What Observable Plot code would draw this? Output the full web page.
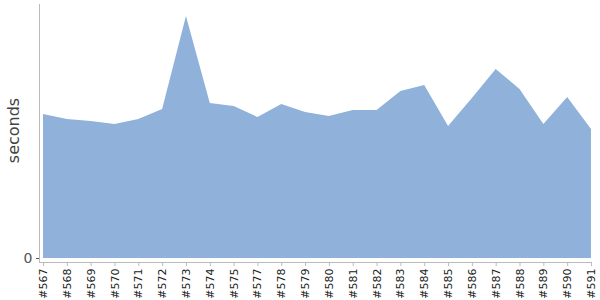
<!DOCTYPE html>
<html>
<head>
<meta charset="utf-8">
<script src="https://cdn.jsdelivr.net/npm/d3@7"></script>
<script src="https://cdn.jsdelivr.net/npm/@observablehq/plot@0.6"></script>
<style>
  html, body { margin: 0; padding: 0; background: #fff; }
  #chart svg { display: block; }
</style>
</head>
<body>
<div id="chart"></div>
<script>
const builds = ["#567","#568","#569","#570","#571","#572","#573","#574","#575","#577","#578","#579","#580","#581","#582","#583","#584","#585","#586","#587","#588","#589","#590","#591"];
const seconds = [144, 139, 137, 134, 139, 149, 242, 155, 152, 141, 154, 146, 142, 148, 148, 167, 173, 132, 160, 189, 169, 134, 161, 129];
const yTicks = [0];

const data = builds.map((b, i) => ({build: b, value: seconds[i]}));

const chart = Plot.plot({
  width: 600,
  height: 300,
  marginTop: 4,
  marginBottom: 38,
  marginLeft: 39,
  marginRight: 9,
  style: {fontFamily: "DejaVu Sans", background: "#fff"},
  x: {type: "point", domain: builds, padding: 0, round: false, insetLeft: 4},
  y: {domain: [0, 254], insetBottom: 4},
  marks: [
    Plot.areaY(data, {x: "build", y: "value", fill: "#8fb1da"}),
    Plot.frame({anchor: "left", stroke: "#bbb"}),
    Plot.frame({anchor: "bottom", stroke: "#bbb"}),
    Plot.axisX({tickRotate: -90, tickSize: 4, tickPadding: 2, fontSize: 11, color: "#222", stroke: "#bbb", label: null}),
    Plot.axisY({ticks: yTicks, tickSize: 3, tickPadding: 4, fontSize: 14, color: "#555", label: null}),
    Plot.text(["seconds"], {text: d => d, frameAnchor: "left", textAnchor: "middle", rotate: -90, dx: -26, dy: -3, fontSize: 16, fill: "#444"})
  ]
});
document.getElementById("chart").append(chart);
</script>
</body>
</html>
